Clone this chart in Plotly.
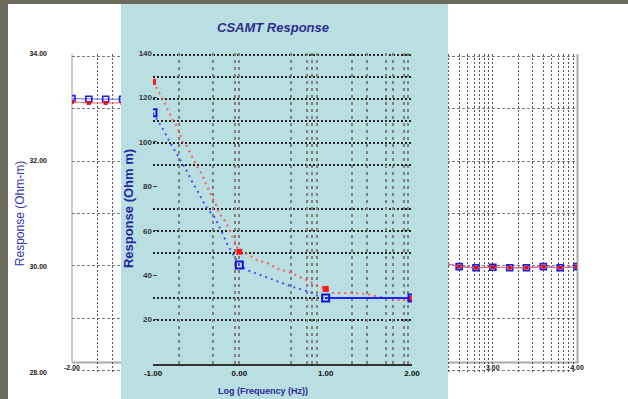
import plotly.graph_objects as go

W, H = 628, 399

# ---------------- data: background chart (Log frequency vs response) -------------
bg_x = [-2.0, -1.8, -1.6, -1.4, None, 2.4, 2.6, 2.8, 3.0, 3.2, 3.4, 3.6, 3.8, 4.0]
bg_blue = [33.16, 33.15, 33.15, 33.15, None, 30.08, 30.00, 29.98, 29.99, 29.98, 29.98, 30.00, 29.98, 30.00]
bg_red = [33.10, 33.08, 33.08, 33.08, None, 30.08, 30.00, 29.98, 29.99, 29.98, 29.98, 30.00, 29.98, 30.00]
bg_xticks = [-2, 3, 4]
bg_xticktext = ["-2.00", "3.00", "4.00"]
bg_yticks = [28, 30, 32, 34]
bg_yticktext = ["28.00", "30.00", "32.00", "34.00"]
bg_ygrid = [28, 29, 30, 31, 32, 33, 34]

# ---------------- data: CSAMT Response panel -------------
red_curve_x = [-1.0, -0.94, -0.92, -0.84, -0.83, -0.77, -0.72, -0.65, -0.61, -0.58, -0.51, -0.47,
               -0.43, -0.40, -0.37, -0.30, -0.28, -0.26, -0.24, -0.19, -0.14, -0.10, -0.05, 0.0,
               0.09, 0.15, 0.22, 0.32, 0.39, 0.47, 0.55, 0.78, 1.0, 1.09, 1.17, 1.32, 1.48, 1.63,
               1.86, 2.0]
red_curve_y = [127.0, 123.4, 121.6, 115.8, 114.4, 109.9, 106.8, 99.5, 98.2, 95.9, 90.5, 87.4,
               85.6, 82.0, 79.7, 74.3, 72.5, 70.7, 68.0, 65.8, 62.6, 59.0, 54.5, 50.5,
               49.5, 48.2, 46.4, 45.5, 44.1, 42.3, 41.9, 37.8, 33.8, 32.0, 32.0, 32.0, 31.5, 30.2,
               28.8, 29.3]
red_pts_x = [-1, 0, 1, 2]
red_pts_y = [127.0, 50.5, 33.8, 29.3]

blue_curve_x = [-1.0, -0.90, -0.78, -0.61, -0.54, -0.47, -0.40, -0.36, -0.28, -0.20, -0.13, 0.0,
                0.09, 0.24, 0.47, 0.62, 0.82, 0.93, 1.0]
blue_curve_y = [113.1, 106.8, 98.2, 86.9, 81.5, 77.0, 71.6, 69.4, 65.8, 59.0, 53.2, 44.6,
                42.3, 40.1, 36.9, 34.7, 32.4, 30.2, 29.7]
blue_solid_x = [1, 2]
blue_solid_y = [29.7, 29.7]
blue_pts_x = [-1, 0, 1, 2]
blue_pts_y = [113.1, 44.6, 29.7, 29.7]

panel_xticks = [-1, 0, 1, 2]
panel_xticktext = ["-1.00", "0.00", "1.00", "2.00"]
panel_yticks = [20, 40, 60, 80, 100, 120, 140]
panel_yticktext = ["20", "40", "60", "80", "100", "120", "140"]
panel_ygrid = [20, 30, 50, 60, 70, 90, 100, 110, 120, 130, 140]
panel_xgrid_freq = [0.2, 0.5, 0.9, 1, 4, 6, 7, 8, 20, 30, 50, 60, 80, 90]


def px(p):
    return p / W


def py(p):
    return 1 - p / H


FONT = "Liberation Sans"
LIGHTBLUE = "#badfe2"

fig = go.Figure()

# background chart
fig.add_trace(go.Scatter(x=bg_x, y=bg_blue, mode="lines+markers", xaxis="x", yaxis="y",
                         line=dict(color="#6262ff", width=1),
                         marker=dict(symbol="square-open", size=6, color="#1c1ce6",
                                     line=dict(width=1.6, color="#1c1ce6")),
                         showlegend=False, hoverinfo="skip"))
fig.add_trace(go.Scatter(x=bg_x, y=bg_red, mode="lines+markers", xaxis="x", yaxis="y",
                         line=dict(color="#ff6060", width=1),
                         marker=dict(symbol="square", size=4, color="#e01010"),
                         showlegend=False, hoverinfo="skip"))
fig.add_trace(go.Scatter(x=[], y=[], xaxis="x4", yaxis="y", showlegend=False))
fig.add_trace(go.Scatter(x=[], y=[], xaxis="x", yaxis="y7", showlegend=False))
# panel background subplot
fig.add_trace(go.Scatter(x=[], y=[], xaxis="x2", yaxis="y2", showlegend=False))
# panel grid helpers
fig.add_trace(go.Scatter(x=[], y=[], xaxis="x5", yaxis="y3", showlegend=False))
fig.add_trace(go.Scatter(x=[], y=[], xaxis="x3", yaxis="y6", showlegend=False))
# panel data
fig.add_trace(go.Scatter(x=red_curve_x, y=red_curve_y, mode="lines", xaxis="x3", yaxis="y3",
                         line=dict(color="#ff5c5c", width=2, dash="2px,4px"),
                         showlegend=False, hoverinfo="skip"))
fig.add_trace(go.Scatter(x=blue_curve_x, y=blue_curve_y, mode="lines", xaxis="x3", yaxis="y3",
                         line=dict(color="#4c4cff", width=2, dash="2px,4px"),
                         showlegend=False, hoverinfo="skip"))
fig.add_trace(go.Scatter(x=blue_solid_x, y=blue_solid_y, mode="lines", xaxis="x3", yaxis="y3",
                         line=dict(color="#2020ff", width=2),
                         showlegend=False, hoverinfo="skip"))
fig.add_trace(go.Scatter(x=red_pts_x, y=red_pts_y, mode="markers", xaxis="x3", yaxis="y3",
                         marker=dict(symbol="square", size=6, color="#ff1a1a"),
                         showlegend=False, hoverinfo="skip"))
fig.add_trace(go.Scatter(x=blue_pts_x, y=blue_pts_y, mode="markers", xaxis="x3", yaxis="y3",
                         marker=dict(symbol="square-open", size=7, color="#1414d8",
                                     line=dict(width=2, color="#1414d8")),
                         showlegend=False, hoverinfo="skip"))

shapes = [
    dict(type="rect", xref="paper", yref="paper", x0=0, x1=1, y0=0, y1=1,
         fillcolor="white", line=dict(width=0), layer="below"),
    dict(type="rect", xref="paper", yref="paper", x0=0, x1=1, y0=py(4), y1=1,
         fillcolor="#6c6b5d", line=dict(width=0), layer="below"),
    dict(type="rect", xref="paper", yref="paper", x0=0, x1=px(8), y0=0, y1=1,
         fillcolor="#6c6b5d", line=dict(width=0), layer="below"),
    dict(type="line", xref="paper", yref="paper", x0=px(72), x1=px(72), y0=py(362), y1=py(54),
         line=dict(color="#9a9a9a", width=1), layer="below"),
    dict(type="line", xref="paper", yref="paper", x0=px(72), x1=px(578.5), y0=py(362.5), y1=py(362.5),
         line=dict(color="#ababab", width=2), layer="below"),
    dict(type="line", xref="paper", yref="paper", x0=px(577.5), x1=px(577.5), y0=py(363), y1=py(54),
         line=dict(color="#ababab", width=2), layer="below"),
]

fig.update_layout(
    width=W, height=H,
    margin=dict(l=0, r=0, t=0, b=0, pad=0, autoexpand=False),
    paper_bgcolor="white",
    plot_bgcolor=LIGHTBLUE,
    showlegend=False,
    shapes=shapes,
    font=dict(family=FONT),
    title=dict(text="CSAMT Response", x=px(273), y=py(27), xref="paper", yref="paper",
               xanchor="center", yanchor="middle", automargin=False,
               font=dict(family=FONT, size=13, color="#2e2e8c", weight="bold", style="italic")),
    # background chart axes
    xaxis=dict(domain=[px(72), px(577)], range=[-2, 4], anchor="y", automargin=False,
               tickvals=bg_xticks, ticktext=bg_xticktext, showgrid=False, zeroline=False,
               showline=False, ticks="", ticklabelstandoff=-11,
               tickfont=dict(size=7, color="#222", weight="bold")),
    yaxis=dict(domain=[1 - 373 / H, 1 - 54 / H], range=[28, 34], anchor="x", automargin=False,
               tickvals=bg_yticks, ticktext=bg_yticktext, showgrid=False, zeroline=False,
               showline=False, ticks="", ticklabelstandoff=24,
               tickfont=dict(size=7, color="#222", weight="bold"),
               title=dict(text="Response (Ohm-m)", standoff=2,
                          font=dict(size=12, color="#3434b4"))),
    yaxis7=dict(overlaying="y", anchor="x", range=[27.96, 34.04], tickvals=bg_ygrid,
                showticklabels=False, showgrid=True, gridcolor="#7a7a7a", griddash="3px,2px",
                gridwidth=1, zeroline=False, showline=False, ticks="", automargin=False),
    xaxis4=dict(overlaying="x", anchor="y", type="log", range=[-2, 4], dtick="D1",
                showticklabels=False, showgrid=True, gridcolor="#555555", griddash="2px,2px",
                gridwidth=1, zeroline=False, showline=False, ticks="", automargin=False),
    # panel background subplot
    xaxis2=dict(domain=[px(121), px(448)], anchor="y2", visible=False, range=[0, 1]),
    yaxis2=dict(domain=[0, py(4)], anchor="x2", visible=False, range=[0, 1]),
    # panel plot axes
    xaxis3=dict(domain=[px(153), px(412)], range=[-1, 2], anchor="y3", automargin=False,
                tickvals=panel_xticks, ticktext=panel_xticktext, showgrid=False,
                zeroline=False, showline=True, linecolor="#333333", linewidth=2, ticks="",
                tickfont=dict(size=8, color="#111", weight="bold")),
    yaxis3=dict(domain=[1 - 364 / H, 1 - 53 / H], range=[0, 140], anchor="x3", automargin=False,
                tickvals=panel_yticks, ticktext=panel_yticktext, showgrid=False,
                zeroline=False, showline=False, ticks="inside", ticklen=4, tickcolor="#444",
                tickfont=dict(size=8, color="#333", weight="bold"),
                title=dict(text="Response (Ohm m)", standoff=2,
                           font=dict(size=13, color="#2525a5", weight="bold"))),
    xaxis5=dict(overlaying="x3", anchor="y3", type="log", range=[-1, 2], automargin=False,
                tickvals=panel_xgrid_freq, showticklabels=False, showgrid=True,
                gridcolor="#7f7f7f", griddash="3px,4px", gridwidth=2, zeroline=False,
                showline=False, ticks=""),
    yaxis6=dict(overlaying="y3", anchor="x3", range=[0, 140.7], tickvals=panel_ygrid, automargin=False,
                showticklabels=False, showgrid=True, gridcolor="#222222", griddash="2px,2px",
                gridwidth=1.5, zeroline=False, showline=False, ticks=""),
    annotations=[dict(text="Log (Frequency (Hz))", xref="paper", yref="paper",
                      x=px(263), y=py(391), xanchor="center", yanchor="middle",
                      showarrow=False,
                      font=dict(family=FONT, size=9, color="#2a2a9a", weight="bold"))],
)

fig.write_html("out.html", config={"displayModeBar": False},
               post_script="document.documentElement.style.margin='0';"
                           "document.body.style.margin='0';"
                           "document.body.style.overflow='hidden';")
